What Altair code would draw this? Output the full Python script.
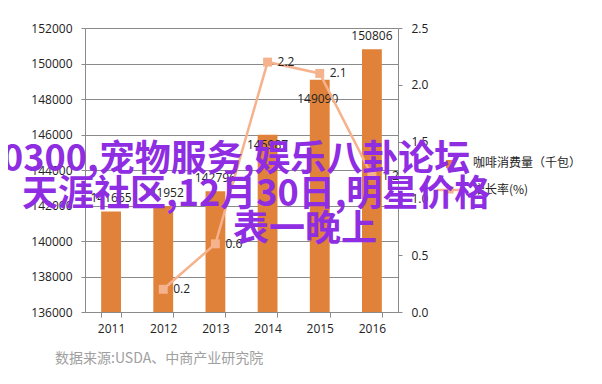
import altair as alt
import pandas as pd

years = ["2011", "2012", "2013", "2014", "2015", "2016"]
consumption = [141665, 141952, 142796, 145987, 149090, 150806]
growth = [None, 0.2, 0.6, 2.2, 2.1, 1.2]
left_ticks = [136000, 138000, 140000, 142000, 144000, 146000, 148000, 150000, 152000]
right_ticks = [0, 0.5, 1, 1.5, 2, 2.5]
legend_labels = ["咖啡消费量（千包）", "增长率(%)"]
overlay_lines = ["0300,宠物服务,娱乐八卦论坛", "天涯社区,12月30日,明星价格", "表一晚上"]
source_text = "数据来源:USDA、中商产业研究院"

df = pd.DataFrame({"year": years, "consumption": consumption, "growth": growth})

W, H = 313, 284
BAR = "#E0823A"
LINE = "#F5B28C"
FONT = "Open Sans"
CJK = "Noto Sans CJK SC"
TXT = "#222222"
AX = "#8a8a8a"

x_enc = alt.X(
    "year:N", sort=years,
    scale=alt.Scale(paddingInner=0.62, paddingOuter=0.31),
    axis=alt.Axis(title=None, labelAngle=0, tickBand="extent", domainColor=AX,
                  tickColor=AX, tickSize=5, labelPadding=6, labelFont=FONT,
                  labelFontSize=12, labelColor=TXT, grid=False),
)

y_left = alt.Y(
    "consumption:Q",
    scale=alt.Scale(domain=[136000, 152000], nice=False, zero=False),
    axis=alt.Axis(title=None, values=left_ticks, format="d", grid=True,
                  gridColor=AX, domainColor=AX, tickColor=AX, tickSize=4,
                  labelPadding=9, labelFont=FONT, labelFontSize=12, labelColor=TXT),
)

y_right = alt.Y(
    "growth:Q",
    scale=alt.Scale(domain=[0, 2.5], nice=False, zero=True),
    axis=alt.Axis(title=None, orient="right", values=right_ticks, grid=False,
                  domainColor=AX, tickColor=AX, tickSize=4, labelPadding=9,
                  labelFont=FONT, labelFontSize=12, labelColor=TXT),
)

base = alt.Chart(df)

bars = base.mark_bar(color=BAR, clip=True).encode(x=x_enc, y=y_left)
lab_common = dict(font=FONT, fontSize=12, color=TXT, baseline="middle")
lab_a = base.mark_text(dy=-13, **lab_common).encode(
    x=x_enc, y=y_left, text="consumption:Q"
).transform_filter("datum.year != '2014' && datum.year != '2015'")
lab_b = base.mark_text(dy=10, **lab_common).encode(
    x=x_enc, y=y_left, text="consumption:Q"
).transform_filter("datum.year == '2014'")
lab_c = base.mark_text(dy=19, dx=-2, **lab_common).encode(
    x=x_enc, y=y_left, text="consumption:Q"
).transform_filter("datum.year == '2015'")
bar_layer = alt.layer(bars, lab_a, lab_b, lab_c)

gbase = base.transform_filter("datum.growth != null")
line = gbase.mark_line(color=LINE, strokeWidth=2.5).encode(x=x_enc, y=y_right)
pts = gbase.mark_point(shape="square", filled=True, size=80, color=LINE, opacity=1).encode(
    x=x_enc, y=y_right)
glab = gbase.mark_text(align="left", dx=10, font=FONT, fontSize=12, color=TXT,
                       baseline="middle").encode(x=x_enc, y=y_right, text="growth:Q")
line_layer = alt.layer(line, pts, glab)


def one(text):
    return alt.Chart(pd.DataFrame({"t": [text]}))


# legend
leg_sq = one(legend_labels[0]).mark_square(size=64, color=BAR, opacity=1).encode(
    x=alt.value(365), y=alt.value(136))
leg_t1 = one(legend_labels[0]).mark_text(align="left", baseline="middle", font=CJK,
                                         fontSize=12, color=TXT).encode(
    x=alt.value(388), y=alt.value(135), text="t:N")
leg_rule = one(legend_labels[1]).mark_rule(color=LINE, strokeWidth=2.5).encode(
    x=alt.value(352), x2=alt.value(378), y=alt.value(162))
leg_pt = one(legend_labels[1]).mark_square(size=50, color=LINE, opacity=1).encode(
    x=alt.value(365), y=alt.value(162))
leg_t2 = one(legend_labels[1]).mark_text(align="left", baseline="middle", font=CJK,
                                         fontSize=12, color=TXT).encode(
    x=alt.value(388), y=alt.value(162), text="t:N")

# source
src = one(source_text).mark_text(align="left", baseline="middle", font=CJK,
                                 fontSize=14, color="#a0a0a0").encode(
    x=alt.value(-30), y=alt.value(331), text="t:N")

# overlay headline
PURPLE = "#8E2DE2"
ov_pos = [(-83, 132), (-63, 167), (148, 202)]
overlays = [
    one(t).mark_text(align="left", baseline="middle", font=CJK, fontSize=36,
                     fontWeight="bold", color=PURPLE).encode(
        x=alt.value(px), y=alt.value(py), text="t:N")
    for t, (px, py) in zip(overlay_lines, ov_pos)
]

chart = alt.layer(
    bar_layer, line_layer, leg_sq, leg_t1, leg_rule, leg_pt, leg_t2, src, *overlays
).resolve_scale(y="independent").properties(
    width=W, height=H,
    autosize=alt.AutoSizeParams(type="none"),
    padding={"left": 77, "top": 20, "right": 196, "bottom": 64},
    background="white",
).configure_view(stroke=None)

chart.save("out.html", embed_options={"renderer": "svg", "actions": False})
